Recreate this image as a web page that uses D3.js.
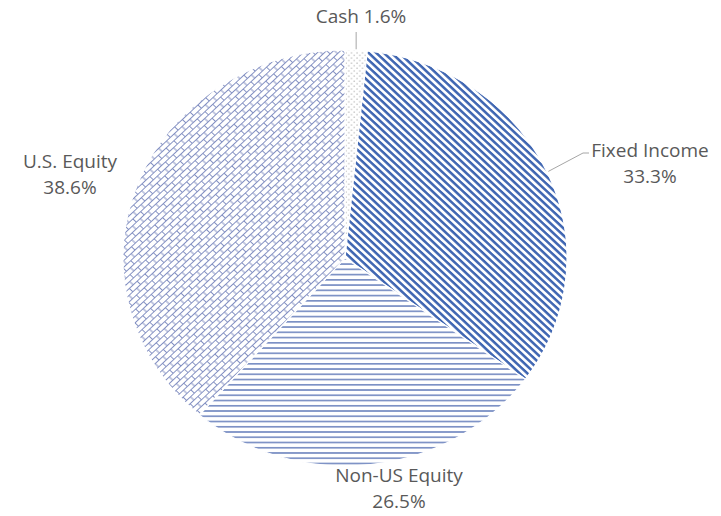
<!DOCTYPE html>
<html>
<head>
<meta charset="utf-8">
<script src="https://cdn.jsdelivr.net/npm/d3@7"></script>
<style>
  body { margin: 0; background: #fff; }
  svg { display: block; }
  .lbl { font-family: "Open Sans", sans-serif; font-size: 19px; fill: #595959; }
  .leader { stroke: #a6a6a6; stroke-width: 1; fill: none; }
</style>
</head>
<body>
<svg id="chart" width="721" height="516"></svg>
<script>
// data
var categories = ['Cash', 'Fixed Income', 'Non-US Equity', 'U.S. Equity'];
var values = [1.6, 33.3, 26.5, 38.6];
var labelLines = [['Cash 1.6%'], ['Fixed Income', '33.3%'], ['Non-US Equity', '26.5%'], ['U.S. Equity', '38.6%']];

// layout
var CX = 345, CY = 258;
var RX = 222, RY = 208;
var LINE_H = 25.5;
var labelAnchors = [[361, 23], [650, 157], [399, 482], [70, 168]];
var patternIds = ['pat-dots', 'pat-diag', 'pat-horiz', 'pat-brick'];

var svg = d3.select('#chart');
var defs = svg.append('defs');

function makePattern(id, w, h, transform) {
    var p = defs.append('pattern')
        .attr('id', id)
        .attr('patternUnits', 'userSpaceOnUse')
        .attr('width', w)
        .attr('height', h);
    if (transform) p.attr('patternTransform', transform);
    p.append('rect').attr('width', w).attr('height', h).attr('fill', '#fff');
    return p;
}

// Cash: small dots
var dots = makePattern('pat-dots', 5.5, 5.5);
dots.append('circle').attr('cx', 1).attr('cy', 1).attr('r', 0.65).attr('fill', '#8a8a8a');
dots.append('circle').attr('cx', 3.75).attr('cy', 3.75).attr('r', 0.65).attr('fill', '#8a8a8a');

// Fixed income: wide downward diagonal
var diag = makePattern('pat-diag', 5.4, 5.4, 'rotate(45)');
diag.append('rect').attr('y', 0).attr('width', 5.4).attr('height', 2.6).attr('fill', '#3f66b2');

// Non-US equity: horizontal lines
var horiz = makePattern('pat-horiz', 6, 5.6);
horiz.append('rect').attr('y', 0).attr('width', 6).attr('height', 1.8).attr('fill', '#7b90c4');

// U.S. equity: diagonal brick
var brick = makePattern('pat-brick', 11, 10, 'rotate(-45)');
brick.append('path')
    .attr('d', 'M0,0.5H11M0,5.5H11M0.5,0.5V5.5M6,5.5V10')
    .attr('stroke', '#8390c2')
    .attr('stroke-width', 1)
    .attr('fill', 'none');

var pie = d3.pie().sort(null).value(function(d) { return d; });
var arcs = pie(values);
var arc = d3.arc().innerRadius(0).outerRadius(RX);

var g = svg.append('g')
    .attr('transform', 'translate(' + CX + ',' + CY + ') scale(1,' + (RY / RX) + ')');

g.selectAll('path.slice')
    .data(arcs)
    .enter()
    .append('path')
    .attr('class', 'slice')
    .attr('d', arc)
    .attr('fill', function(d, i) { return 'url(#' + patternIds[i] + ')'; })
    .attr('stroke', '#fff')
    .attr('stroke-width', 1.2);

function edgePoint(d) {
    var a = (d.startAngle + d.endAngle) / 2;
    return [CX + RX * Math.sin(a), CY - RY * Math.cos(a)];
}

// leader lines (Cash, Fixed Income)
var cashEdge = edgePoint(arcs[0]);
svg.append('path')
    .attr('class', 'leader')
    .attr('d', 'M' + cashEdge[0] + ',' + (labelAnchors[0][1] + 9) + 'V' + (cashEdge[1] - 1));

var fiEdge = edgePoint(arcs[1]);
svg.append('path')
    .attr('class', 'leader')
    .attr('d', 'M' + (labelAnchors[1][0] - 61) + ',' + (labelAnchors[1][1] - 4) +
        'H' + (labelAnchors[1][0] - 67) + 'L' + (fiEdge[0] + 1) + ',' + (fiEdge[1] - 1));

// labels
var labels = svg.selectAll('text.lbl')
    .data(categories)
    .enter()
    .append('text')
    .attr('class', 'lbl')
    .attr('text-anchor', 'middle')
    .attr('x', function(d, i) { return labelAnchors[i][0]; })
    .attr('y', function(d, i) { return labelAnchors[i][1]; });

labels.each(function(d, i) {
    var t = d3.select(this);
    labelLines[i].forEach(function(line, j) {
        t.append('tspan')
            .attr('x', labelAnchors[i][0])
            .attr('dy', j === 0 ? 0 : LINE_H)
            .text(line);
    });
});
</script>
</body>
</html>
